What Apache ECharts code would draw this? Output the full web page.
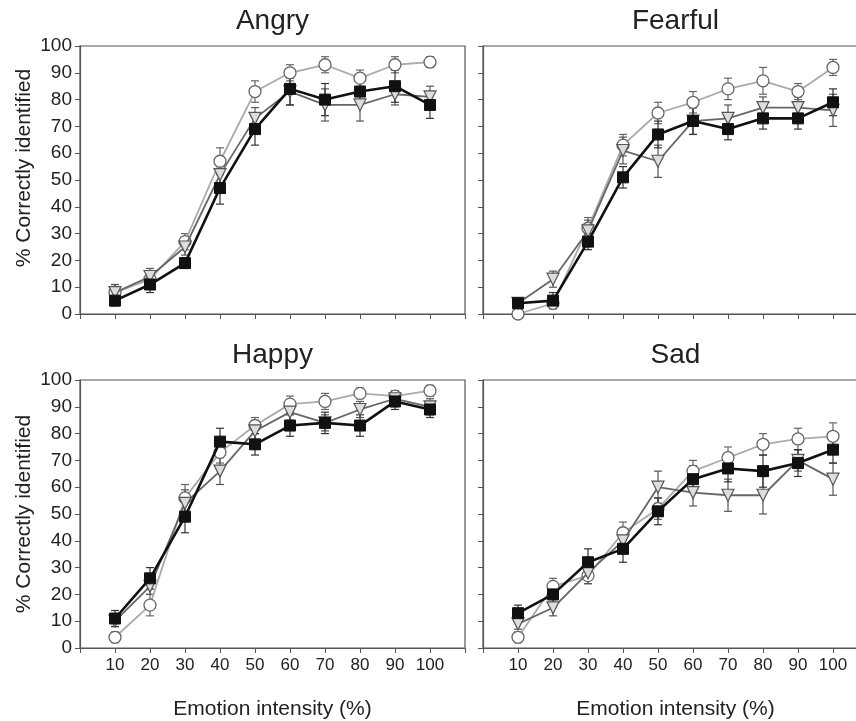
<!DOCTYPE html>
<html><head><meta charset="utf-8">
<script src="https://cdn.jsdelivr.net/npm/echarts@6/dist/echarts.min.js"></script>
<style>html,body{margin:0;padding:0;background:#fff}#c{width:856px;height:721px}</style>
</head><body><div id="c"></div>
<script>
const intensities = [10,20,30,40,50,60,70,80,90,100];
const yTicks = [0,10,20,30,40,50,60,70,80,90,100];
const panelTitles = ['Angry','Fearful','Happy','Sad'];

const angryCircle   = [8,13,27,57,83,90,93,88,93,94];
const angryTriangle = [8,14,25,52,73,83,78,78,82,81];
const angrySquare   = [5,11,19,47,69,84,80,83,85,78];
const angryCircleErr   = [3,3,3,5,4,3,3,3,3,2];
const angryTriangleErr = [3,3,3,5,4,5,6,6,4,4];
const angrySquareErr   = [2,3,2,6,6,6,6,4,6,5];

const fearfulCircle   = [0,4,32,63,75,79,84,87,83,92];
const fearfulTriangle = [4,13,31,61,57,72,73,77,77,76];
const fearfulSquare   = [4,5,27,51,67,72,69,73,73,79];
const fearfulCircleErr   = [1,2,4,4,4,4,4,5,3,3];
const fearfulTriangleErr = [2,3,4,5,6,5,5,4,4,6];
const fearfulSquareErr   = [2,3,3,4,5,5,4,4,4,5];

const happyCircle   = [4,16,56,73,83,91,92,95,94,96];
const happyTriangle = [10,23,54,66,81,88,84,89,93,90];
const happySquare   = [11,26,49,77,76,83,84,83,92,89];
const happyCircleErr   = [2,4,5,4,3,3,3,2,2,2];
const happyTriangleErr = [2,3,5,5,4,3,3,3,3,3];
const happySquareErr   = [3,4,6,5,4,4,4,4,3,3];

const sadCircle   = [4,23,27,43,52,66,71,76,78,79];
const sadTriangle = [9,15,28,40,60,58,57,57,70,63];
const sadSquare   = [13,20,32,37,51,63,67,66,69,74];
const sadCircleErr   = [2,3,3,4,4,4,4,4,4,5];
const sadTriangleErr = [2,3,4,4,6,5,6,7,4,6];
const sadSquareErr   = [3,4,5,5,5,5,5,6,5,5];

const panels = [
  {c:angryCircle,t:angryTriangle,s:angrySquare,ce:angryCircleErr,te:angryTriangleErr,se:angrySquareErr},
  {c:fearfulCircle,t:fearfulTriangle,s:fearfulSquare,ce:fearfulCircleErr,te:fearfulTriangleErr,se:fearfulSquareErr},
  {c:happyCircle,t:happyTriangle,s:happySquare,ce:happyCircleErr,te:happyTriangleErr,se:happySquareErr},
  {c:sadCircle,t:sadTriangle,s:sadSquare,ce:sadCircleErr,te:sadTriangleErr,se:sadSquareErr}
];

const FONT = 'Liberation Sans, Arial, sans-serif';
const gridPos = [
  {left:80, top:46, width:385, height:268},
  {left:483, top:46, width:385, height:268},
  {left:80, top:380, width:385, height:268},
  {left:483, top:380, width:385, height:268}
];

const grids = [], xAxes = [], yAxes = [], series = [];

function errSeries(idx, vals, errs, color){
  return {
    type:'custom', xAxisIndex:idx, yAxisIndex:idx, z:2, silent:true,
    data: intensities.map((x,i)=>[x, vals[i]-errs[i], vals[i]+errs[i]]),
    encode:{x:0, y:[1,2]},
    renderItem:function(params, api){
      const x = api.value(0);
      const lo = api.coord([x, Math.max(api.value(1), -1)]);
      const hi = api.coord([x, api.value(2)]);
      const w = 4;
      const st = {stroke:color, lineWidth:1.2};
      return {type:'group', children:[
        {type:'line', shape:{x1:lo[0],y1:lo[1],x2:hi[0],y2:hi[1]}, style:st},
        {type:'line', shape:{x1:lo[0]-w,y1:lo[1],x2:lo[0]+w,y2:lo[1]}, style:st},
        {type:'line', shape:{x1:hi[0]-w,y1:hi[1],x2:hi[0]+w,y2:hi[1]}, style:st}
      ]};
    }
  };
}

panels.forEach((p, i) => {
  const g = gridPos[i];
  grids.push(Object.assign({show:true, borderColor:'#555', borderWidth:1.2, backgroundColor:'transparent',
    containLabel:false, outerBoundsMode:'none'}, g));
  const isBottom = i >= 2, isLeft = (i % 2) === 0;
  xAxes.push({
    type:'value', gridIndex:i, min:0, max:110, interval:10,
    axisLine:{show:true, lineStyle:{color:'#555', width:1.2}},
    axisTick:{show:true, length:5, lineStyle:{color:'#555'}},
    splitLine:{show:false},
    axisLabel:{show:isBottom, fontFamily:FONT, fontSize:17, color:'#222', margin:9,
      formatter:v => (intensities.indexOf(v) >= 0 ? String(v) : '')}
  });
  yAxes.push({
    type:'value', gridIndex:i, min:0, max:100, interval:10,
    axisLine:{show:true, lineStyle:{color:'#555', width:1.2}},
    axisTick:{show:true, length:5, lineStyle:{color:'#555'}},
    splitLine:{show:false},
    axisLabel:{show:isLeft, fontFamily:FONT, fontSize:19, color:'#222', margin:8,
      formatter:v => (yTicks.indexOf(v) >= 0 ? String(v) : '')}
  });
  series.push(errSeries(i, p.c, p.ce, '#666'));
  series.push(errSeries(i, p.t, p.te, '#555'));
  series.push(errSeries(i, p.s, p.se, '#333'));
  series.push({type:'line', xAxisIndex:i, yAxisIndex:i, z:3, data:intensities.map((x,k)=>[x,p.c[k]]),
    symbol:'circle', symbolSize:12, lineStyle:{color:'#aaa', width:1.8},
    itemStyle:{color:'#fff', borderColor:'#666', borderWidth:1.3}, animation:false});
  series.push({type:'line', xAxisIndex:i, yAxisIndex:i, z:4, data:intensities.map((x,k)=>[x,p.t[k]]),
    symbol:'triangle', symbolRotate:180, symbolSize:12, lineStyle:{color:'#666', width:1.8},
    itemStyle:{color:'#ddd', borderColor:'#555', borderWidth:1.2}, animation:false});
  series.push({type:'line', xAxisIndex:i, yAxisIndex:i, z:5, data:intensities.map((x,k)=>[x,p.s[k]]),
    symbol:'rect', symbolSize:11, lineStyle:{color:'#111', width:2.6},
    itemStyle:{color:'#111', borderColor:'#111', borderWidth:1}, animation:false});
});

const graphicTexts = [];
panelTitles.forEach((t,i)=>{
  const g = gridPos[i];
  graphicTexts.push({type:'text', x:g.left + g.width/2, y:g.top - 25,
    style:{text:t, fontFamily:FONT, fontSize:28, fill:'#222', align:'center', verticalAlign:'middle'}});
});
[gridPos[2], gridPos[3]].forEach(g=>{
  graphicTexts.push({type:'text', x:g.left + g.width/2, y:g.top + g.height + 61,
    style:{text:'Emotion intensity (%)', fontFamily:FONT, fontSize:21, fill:'#222', align:'center', verticalAlign:'middle'}});
});
[[24,168],[24,514]].forEach(pos=>{
  graphicTexts.push({type:'text', x:pos[0], y:pos[1], rotation:Math.PI/2,
    style:{text:'% Correctly identified', fontFamily:FONT, fontSize:21, fill:'#222', align:'center', verticalAlign:'middle'}});
});

const chart = echarts.init(document.getElementById('c'), null, {renderer:'canvas'});
chart.setOption({
  animation:false,
  backgroundColor:'#fff',
  grid:grids, xAxis:xAxes, yAxis:yAxes, series:series,
  graphic:graphicTexts
});
</script></body></html>
